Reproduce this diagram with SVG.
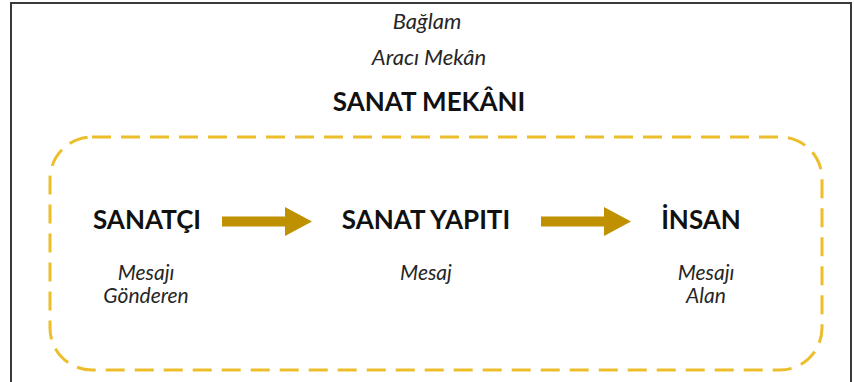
<svg xmlns="http://www.w3.org/2000/svg" width="854" height="382" viewBox="0 0 854 382">
<style>
.it{font-family:Lato,"Open Sans","Liberation Sans",sans-serif;font-style:italic;font-size:21px;fill:#262626;text-anchor:middle}
.top{font-size:22px}
.bd{font-family:Lato,"Open Sans","Liberation Sans",sans-serif;font-weight:bold;font-size:26px;fill:#111;text-anchor:middle}
.arrow{fill:#BF9000}
</style>
<rect x="0" y="0" width="854" height="382" fill="#fff"/>
<path d="M11 382 V3 H851 V382" fill="none" stroke="#3a3a3a" stroke-width="2"/>
<g id="context">
<text class="it top" x="427" y="29">Bağlam</text>
<text class="it top" x="429" y="65">Aracı Mekân</text>
<text class="bd" x="429" y="111">SANAT MEKÂNI</text>
<rect x="50" y="137" width="772" height="233" rx="42" ry="42" fill="none" stroke="#EDBE2B" stroke-width="3" stroke-dasharray="19 10"/>
</g>
<g id="connectors">
<polygon class="arrow" points="222,216.5 285,216.5 285,207 312,221.5 285,236 285,226.5 222,226.5"/>
<polygon class="arrow" points="541,216.5 604,216.5 604,207 631,221.5 604,236 604,226.5 541,226.5"/>
</g>
<g id="sanatci">
<text class="bd" x="147" y="229">SANATÇI</text>
<text class="it" x="146" y="280">Mesajı</text>
<text class="it" x="146" y="303">Gönderen</text>
</g>
<g id="sanat-yapiti">
<text class="bd" x="426" y="229">SANAT YAPITI</text>
<text class="it" x="426" y="280">Mesaj</text>
</g>
<g id="insan">
<text class="bd" x="701" y="229">İNSAN</text>
<text class="it" x="706" y="280">Mesajı</text>
<text class="it" x="706" y="303">Alan</text>
</g>
</svg>
